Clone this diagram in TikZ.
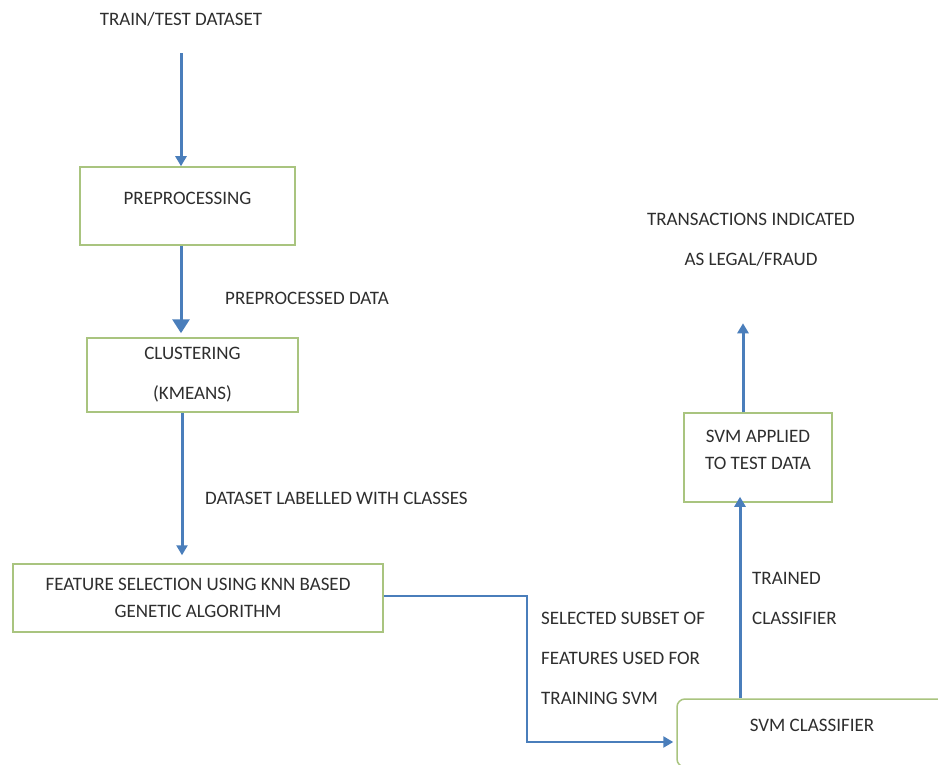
\documentclass[tikz,border=0pt]{standalone}
\usepackage{fontspec}
\setmainfont{Carlito}
\usetikzlibrary{arrows.meta}
\definecolor{arrowblue}{HTML}{4A7EBB}
\definecolor{boxgreen}{HTML}{A9C47F}
\definecolor{txtgray}{HTML}{2E2E2E}
\newcommand\liftby[2]{\raisebox{#1}[\height][\depth]{#2}}
\begin{document}
\begin{tikzpicture}[x=1pt,y=-1pt,
  lbl/.style={font=\fontsize{19}{40}\selectfont, text=txtgray, inner sep=0pt},
  box/.style={draw=boxgreen, line width=1.5pt, font=\fontsize{19}{27}\selectfont,
    text=txtgray, inner sep=0pt, align=center},
  arr/.style={draw=arrowblue, line width=3pt, -{Triangle[width=11pt,length=10pt]}},
  bigarr/.style={draw=arrowblue, line width=3pt, -{Triangle[width=17pt,length=14pt]}}]
\clip (0,0) rectangle (938,765);
\fill[white] (0,0) rectangle (938,765);

% nodes
\node[lbl] (train) at (181,19) {TRAIN/TEST DATASET};
\node[box, minimum width=215pt, minimum height=78pt] (pre) at (187.5,206)
  {\liftby{8pt}{PREPROCESSING}};
\node[box, minimum width=211pt, minimum height=74pt, font=\fontsize{19}{40}\selectfont]
  (clu) at (192.5,375) {CLUSTERING\\(KMEANS)};
\node[box, minimum width=370pt, minimum height=68pt] (feat) at (198,598)
  {FEATURE SELECTION USING KNN BASED\\GENETIC ALGORITHM};
\node[box, rounded corners=8pt, minimum width=270pt, minimum height=68pt] (svm) at (812,733)
  {\liftby{8pt}{SVM CLASSIFIER}};
\node[box, minimum width=148pt, minimum height=89pt] (app) at (758,457.5)
  {\liftby{7pt}{\begin{tabular}{@{}c@{}}SVM APPLIED\\TO TEST DATA\end{tabular}}};
\node[lbl, align=center] (out) at (751,239.5) {TRANSACTIONS INDICATED\\AS LEGAL/FRAUD};

% connector labels
\node[lbl, anchor=west] (lpd) at (225,298) {PREPROCESSED DATA};
\node[lbl, anchor=west] (ldl) at (205,498) {DATASET LABELLED WITH CLASSES};
\node[lbl, anchor=west, align=left] (lsel) at (541,658)
  {SELECTED SUBSET OF\\FEATURES USED FOR\\TRAINING SVM};
\node[lbl, anchor=west, align=left] (ltc) at (752,598) {TRAINED\\CLASSIFIER};

% helper coordinates
\coordinate (bx) at (527,0);
\coordinate (tx) at (740,0);
\coordinate (ux) at (743,0);

% connectors
\draw[arr, shorten <=27pt] (train.south) -- (train.south |- pre.north);
\draw[bigarr, shorten >=4pt] (pre.south -| train) -- (clu.north -| train);
\draw[arr, shorten >=8pt] ([xshift=1pt]clu.south -| train) -- ([xshift=1pt]feat.north -| train);
\draw[arr, line width=2.8pt, shorten >=3pt] ([yshift=2pt]feat.east) -- ([yshift=2pt]feat.east -| bx)
  |- ([yshift=-9pt]svm.west);
\draw[arr, shorten >=-6pt] (svm.north -| tx) -- (app.south -| tx);
\draw[arr, shorten >=57pt] (app.north -| ux) -- (out.south -| ux);
\end{tikzpicture}
\end{document}
